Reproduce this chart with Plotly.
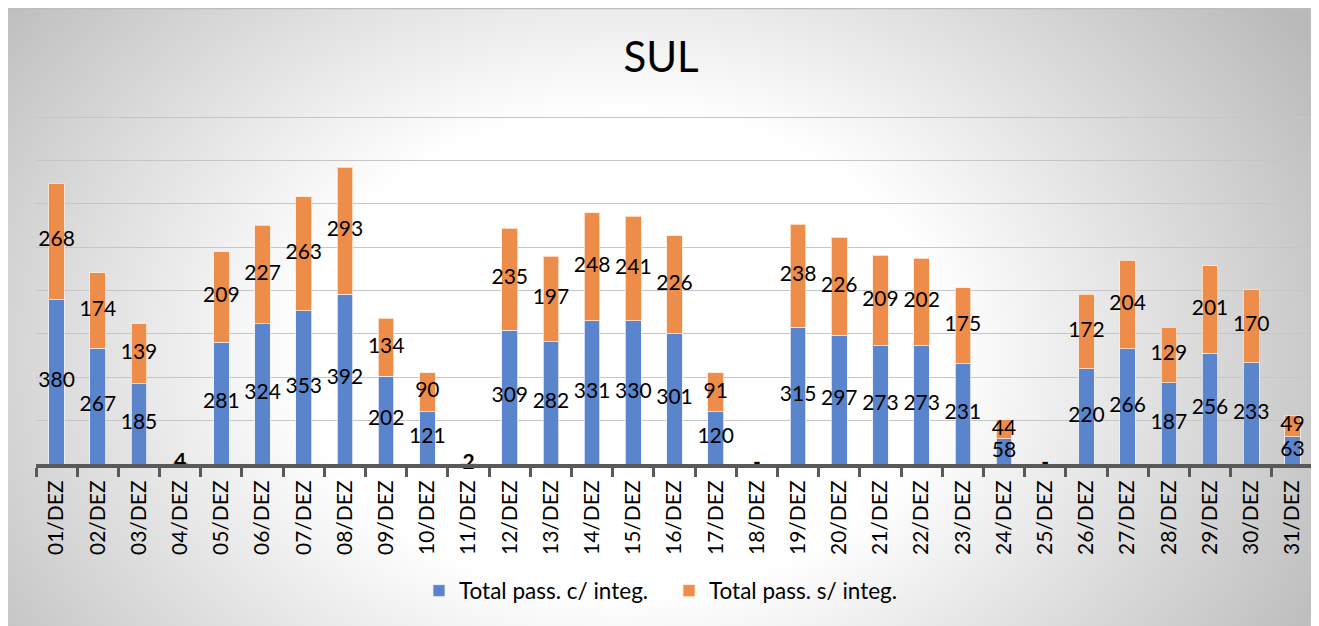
import base64
import plotly.graph_objects as go

days = ["01/DEZ", "02/DEZ", "03/DEZ", "04/DEZ", "05/DEZ", "06/DEZ", "07/DEZ", "08/DEZ",
        "09/DEZ", "10/DEZ", "11/DEZ", "12/DEZ", "13/DEZ", "14/DEZ", "15/DEZ", "16/DEZ",
        "17/DEZ", "18/DEZ", "19/DEZ", "20/DEZ", "21/DEZ", "22/DEZ", "23/DEZ", "24/DEZ",
        "25/DEZ", "26/DEZ", "27/DEZ", "28/DEZ", "29/DEZ", "30/DEZ", "31/DEZ"]
com_integ = [380, 267, 185, 0, 281, 324, 353, 392, 202, 121, 0, 309, 282, 331, 330, 301,
             120, 0, 315, 297, 273, 273, 231, 58, 0, 220, 266, 187, 256, 233, 63]
sem_integ = [268, 174, 139, 4, 209, 227, 263, 293, 134, 90, 2, 235, 197, 248, 241, 226,
             91, 0, 238, 226, 209, 202, 175, 44, 0, 172, 204, 129, 201, 170, 49]
grid_ticks = [100, 200, 300, 400, 500, 600, 700, 800]

BLUE = "#5A84CB"
ORANGE = "#EE8C4A"
FONT = "Lato"

fig = go.Figure()
fig.add_trace(go.Bar(x=days, y=com_integ, name="Total pass. c/ integ.",
                     marker=dict(color=BLUE, line=dict(color="rgba(240,240,250,0.8)", width=1)),
                     hoverinfo="skip"))
fig.add_trace(go.Bar(x=days, y=sem_integ, name="Total pass. s/ integ.",
                     marker=dict(color=ORANGE, line=dict(color="rgba(255,235,220,0.8)", width=1)),
                     hoverinfo="skip"))


def fmt(v, bold):
    if v == 0:
        return "<b>-</b>"
    return f"<b>{v}</b>" if bold else str(v)


blue_txt, blue_y, ora_txt, ora_y = [], [], [], []
for b, o in zip(com_integ, sem_integ):
    small = (b + o) < 10
    blue_txt.append(fmt(b, small) if not (b == 0 and o > 0) else "")
    blue_y.append(b / 2)
    ora_txt.append(fmt(o, small) if o != 0 else "")
    ora_y.append(b + o / 2)

fig.add_trace(go.Scatter(x=days, y=blue_y, text=blue_txt, mode="text", showlegend=False,
                         textfont=dict(family=FONT, size=21, color="#000000"),
                         cliponaxis=False, hoverinfo="skip"))
fig.add_trace(go.Scatter(x=days, y=ora_y, text=ora_txt, mode="text", showlegend=False,
                         textfont=dict(family=FONT, size=21, color="#000000"),
                         cliponaxis=False, hoverinfo="skip"))

W, H = 1311, 618
svg = f"""<svg xmlns='http://www.w3.org/2000/svg' width='{W}' height='{H}' viewBox='0 0 {W} {H}' preserveAspectRatio='none'>
<defs><radialGradient id='g' gradientUnits='userSpaceOnUse' cx='0' cy='0' r='1'
 gradientTransform='translate(615 345) scale(800 600)'>
<stop offset='0%' stop-color='#ffffff'/><stop offset='40%' stop-color='#ffffff'/>
<stop offset='100%' stop-color='#bababa'/></radialGradient></defs>
<rect x='0' y='0' width='{W}' height='{H}' fill='url(#g)'/>
<line x1='0' y1='0.5' x2='{W}' y2='0.5' stroke='#bdbdbd' stroke-width='1.5'/>
</svg>"""
src = "data:image/svg+xml;base64," + base64.b64encode(svg.encode()).decode()

L, R, T, B = 28, 1305, 107, 456
PW, PH = R - L, B - T
fig.add_layout_image(dict(source=src, xref="paper", yref="paper",
                          x=(0 - L) / PW, y=(B - 0) / PH,
                          sizex=W / PW, sizey=H / PH,
                          xanchor="left", yanchor="top", sizing="stretch", layer="below"))

fig.update_layout(
    width=W, height=H,
    margin=dict(l=L, r=W - R, t=T, b=H - B),
    paper_bgcolor="#ffffff", plot_bgcolor="rgba(0,0,0,0)",
    barmode="stack", bargap=0.62,
    title=dict(text="SUL", x=(653 - L) / PW, xanchor="center", xref="paper",
               y=1 - 49 / H, yanchor="middle",
               font=dict(family=FONT, size=42, color="#000000")),
    font=dict(family=FONT, color="#000000"),
    legend=dict(orientation="h", x=(661 - L) / PW, xanchor="center", y=(B - 583) / PH, yanchor="middle",
                font=dict(family=FONT, size=22.5, color="#000000"), bgcolor="rgba(0,0,0,0)",
                itemwidth=30, traceorder="normal", entrywidth=205, entrywidthmode="pixels"),
    xaxis=dict(type="category", range=[-0.5, len(days) - 0.5],
               tickangle=-90, tickfont=dict(family=FONT, size=21, color="#000000"),
               showline=True, linecolor="#595959", linewidth=4, ticklabelstandoff=4,
               ticks="outside", tickson="boundaries", ticklen=9, tickwidth=3, tickcolor="#595959",
               showgrid=False, zeroline=False),
    yaxis=dict(range=[0, 805], tickvals=grid_ticks,
               showgrid=True, gridcolor="#c6c6c6", gridwidth=1,
               showticklabels=False, zeroline=False, showline=False, ticks=""),
)

fig.write_html("out.html")
